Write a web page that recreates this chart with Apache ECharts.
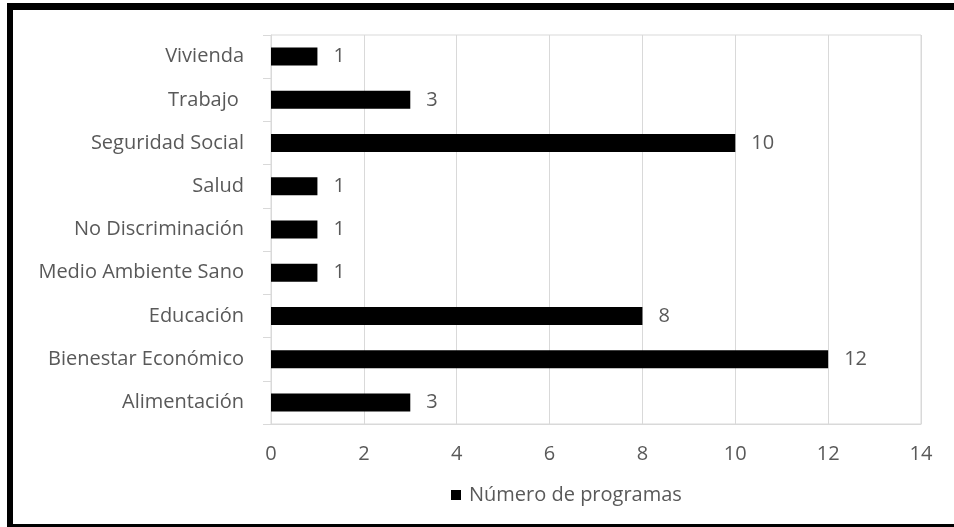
<!DOCTYPE html>
<html>
<head>
<meta charset="utf-8">
<script src="https://cdn.jsdelivr.net/npm/echarts@6/dist/echarts.min.js"></script>
<style>
html,body{margin:0;padding:0;background:#fff;overflow:hidden;}
#chart{position:absolute;left:0;top:0;width:954px;height:527px;}
#frame{position:absolute;left:7px;top:3px;width:980px;height:514px;border-left:6px solid #000;border-top:7px solid #000;border-bottom:3px solid #000;pointer-events:none;}
</style>
</head>
<body>
<div id="chart"></div>
<div id="frame"></div>
<script>
const categories = ['Alimentación','Bienestar Económico','Educación','Medio Ambiente Sano','No Discriminación','Salud','Seguridad Social','Trabajo ','Vivienda'];
const values = [3,12,8,1,1,1,10,3,1];
const seriesName = 'Número de programas';
const xTicks = [0,2,4,6,8,10,12,14];

const FONT = 'Open Sans';
const TXT = '#595959';
const GRID = '#d9d9d9';
const FS = 20;

const chart = echarts.init(document.getElementById('chart'));
chart.setOption({
  animation: false,
  grid: {left: 271, right: 33, top: 35, bottom: 103, show: true, borderColor: GRID, borderWidth: 1, containLabel: false},
  legend: {
    data: [{name: seriesName, icon: 'rect'}],
    bottom: 17, left: 446,
    itemWidth: 10, itemHeight: 10, itemGap: 8,
    textStyle: {fontFamily: FONT, fontSize: FS, color: TXT, padding: [0, 0, 0, 3]}
  },
  xAxis: {
    type: 'value', min: xTicks[0], max: xTicks[xTicks.length-1], interval: 2,
    axisLine: {show: true, lineStyle: {color: GRID}},
    axisTick: {show: false},
    splitLine: {show: true, lineStyle: {color: GRID, width: 1}},
    axisLabel: {fontFamily: FONT, fontSize: FS, color: TXT, margin: 20}
  },
  yAxis: {
    type: 'category', data: categories,
    axisLine: {show: true, lineStyle: {color: GRID}},
    axisTick: {show: true, length: 8, lineStyle: {color: GRID}},
    axisLabel: {fontFamily: FONT, fontSize: FS, color: TXT, margin: 27}
  },
  series: [{
    name: seriesName, type: 'bar', data: values, barWidth: 18,
    itemStyle: {color: '#000'},
    label: {show: true, position: 'right', distance: 16, fontFamily: FONT, fontSize: FS, color: TXT}
  }]
});
</script>
</body>
</html>
